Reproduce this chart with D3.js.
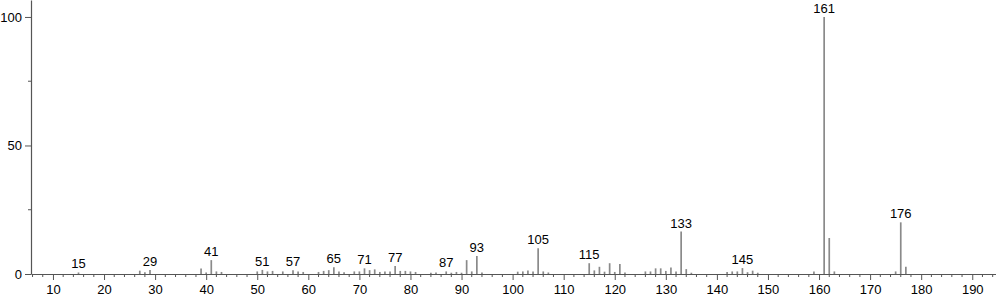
<!DOCTYPE html>
<html><head><meta charset="utf-8">
<script src="https://cdn.jsdelivr.net/npm/d3@7"></script>
<style>html,body{margin:0;padding:0;background:#fff;}svg{display:block;font-family:"Liberation Sans",Arial,sans-serif;}</style>
</head><body>
<svg id="c" width="996" height="299"></svg>
<script>
const mz = [15,27,28,29,39,40,41,42,43,50,51,52,53,55,57,58,59,62,63,64,65,66,67,69,70,71,72,73,74,75,76,77,78,79,80,81,84,85,87,88,89,90,91,92,93,94,101,102,103,104,105,106,107,115,116,117,118,119,120,121,122,126,127,128,129,130,131,132,133,134,135,142,143,144,145,146,147,148,159,161,162,163,175,176,177];
const intensity = [0.6,1.3,0.7,1.6,2.1,0.6,5.4,1.0,0.8,1.0,1.6,1.0,1.2,1.0,1.5,1.0,0.8,0.8,1.2,1.5,2.6,1.0,0.7,1.0,1.0,2.2,1.5,1.8,0.8,1.0,1.0,3.1,1.2,1.2,1.0,0.8,0.5,0.6,1.0,0.5,0.8,0.5,5.4,1.0,7.0,0.6,0.9,1.0,1.4,1.0,10.0,1.0,0.6,4.2,1.4,2.8,0.9,4.2,0.8,3.9,0.6,1.0,1.0,2.2,2.2,1.2,2.5,1.0,16.5,1.9,0.5,0.8,1.0,1.0,2.3,0.7,1.3,0.5,1.0,100,14.0,1.0,1.0,20.1,2.8];
const labeledPeaks = [15,29,41,51,57,65,71,77,87,93,105,115,133,145,161,176];
const xMajorTicks = [10,20,30,40,50,60,70,80,90,100,110,120,130,140,150,160,170,180,190];
const yMajorTicks = [0,50,100];
const yMinorTicks = [25,75];

const svg = d3.select("#c");
const x = d3.scaleLinear().domain([5.7,194.65]).range([31,996]);
const y = d3.scaleLinear().domain([0,106.6]).range([274,0]);
const axisColor = "#555";

const xMinor = d3.range(6,195,2).filter(v => v % 10 !== 0);

// peaks
const peaks = mz.map((m,i)=>({m, v:intensity[i]}));
svg.append("g").selectAll("line").data(peaks).join("line")
  .attr("x1",d=>x(d.m)).attr("x2",d=>x(d.m))
  .attr("y1",y(0)).attr("y2",d=>y(d.v))
  .attr("stroke","#8a8a8a").attr("stroke-width",1.7);

// x axis
const gx = svg.append("g").attr("transform",`translate(0,${y(0)})`);
gx.call(d3.axisBottom(x).tickValues(xMajorTicks).tickSize(6).tickPadding(5).tickSizeOuter(0));
gx.append("g").selectAll("line").data(xMinor).join("line")
  .attr("x1",d=>x(d)).attr("x2",d=>x(d)).attr("y1",0).attr("y2",3).attr("stroke",axisColor);
// y axis
const gy = svg.append("g").attr("transform",`translate(${x(5.7)},0)`);
gy.call(d3.axisLeft(y).tickValues(yMajorTicks).tickSize(6).tickPadding(3).tickSizeOuter(0));
gy.append("g").selectAll("line").data(yMinorTicks).join("line")
  .attr("y1",d=>y(d)).attr("y2",d=>y(d)).attr("x1",0).attr("x2",-3).attr("stroke",axisColor);

[gx,gy].forEach(g=>{
  g.select(".domain").attr("stroke",axisColor).attr("stroke-width",1.2);
  g.selectAll(".tick line").attr("stroke",axisColor);
  g.selectAll("text").attr("fill","#000").style("font-size","13px").style("font-family","'Liberation Sans',Arial,sans-serif");
});

// labels
svg.append("g").selectAll("text").data(peaks.filter(d=>labeledPeaks.includes(d.m))).join("text")
  .attr("x",d=>x(d.m)).attr("y",d=>y(d.v)-4)
  .attr("text-anchor","middle").attr("fill","#000")
  .style("font-size","13px")
  .text(d=>d.m);
</script>
</body></html>
